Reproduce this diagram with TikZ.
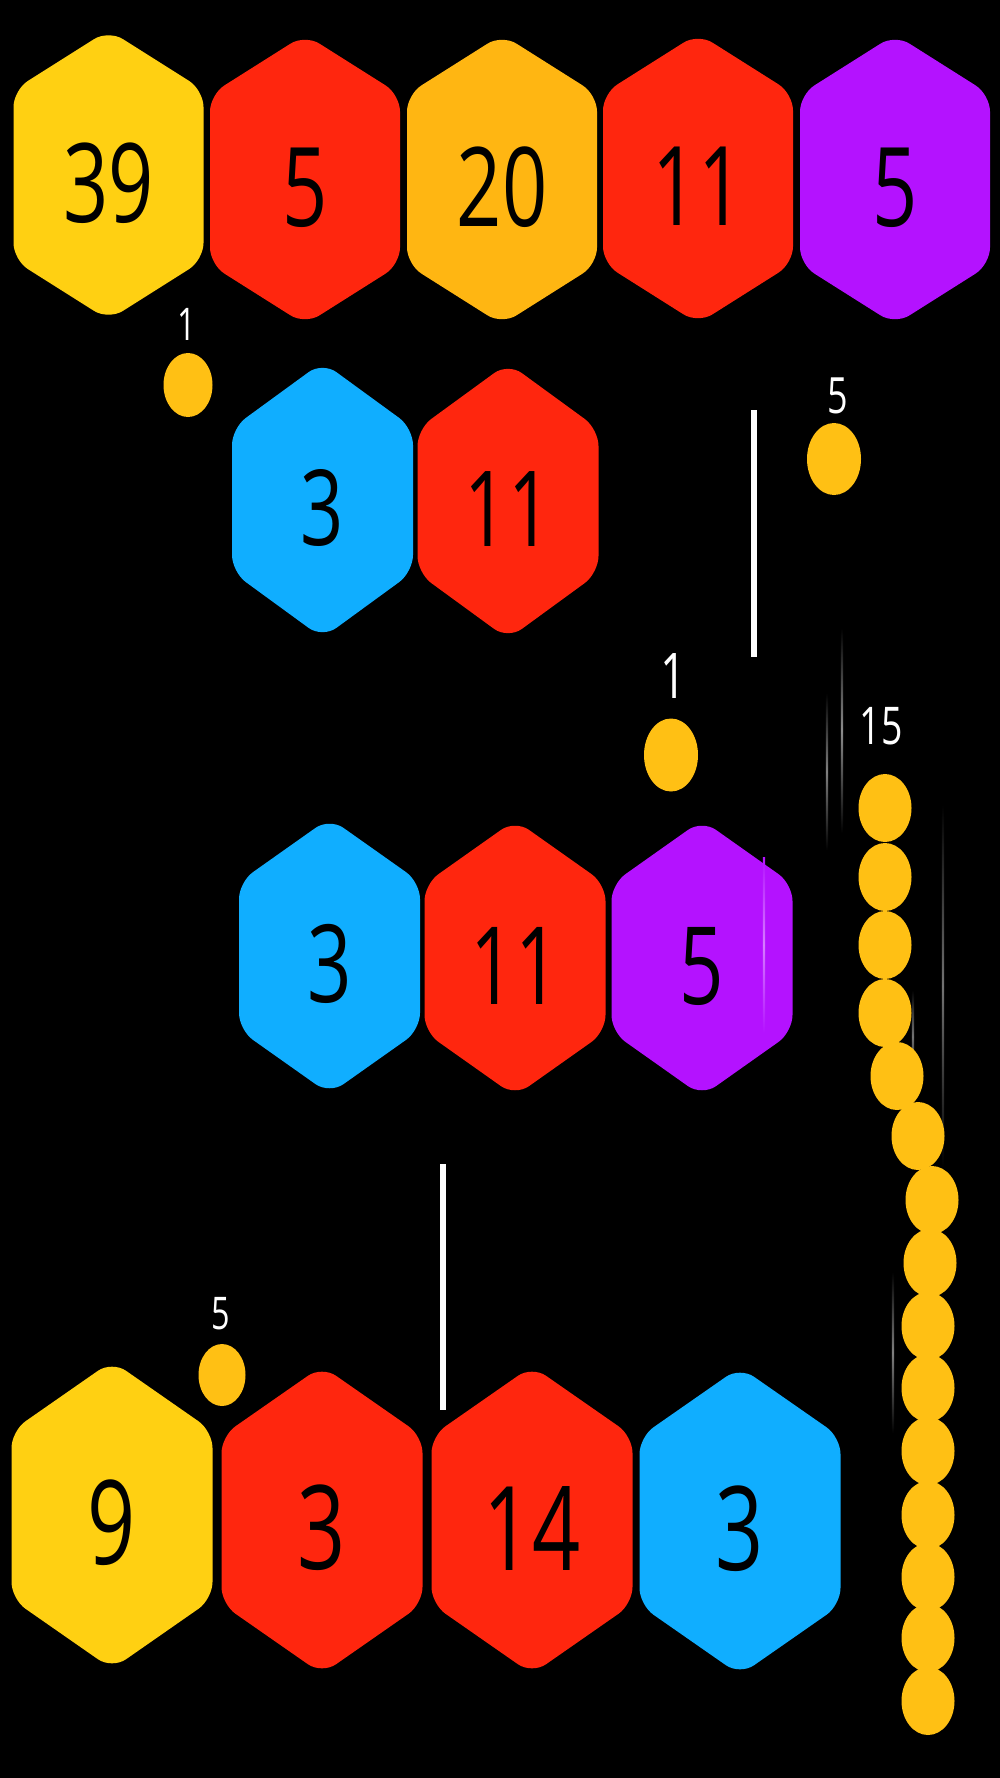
\documentclass[tikz,border=0pt]{standalone}
\usepackage{fontspec}
\usepackage{graphicx}
\usetikzlibrary{shapes.geometric}
\newfontfamily\numfont{Open Sans}
\definecolor{hyellow}{HTML}{FFD012}
\definecolor{horange}{HTML}{FFB612}
\definecolor{hred}{HTML}{FF260E}
\definecolor{hpurple}{HTML}{B412FF}
\definecolor{hblue}{HTML}{10AEFF}
\definecolor{ballc}{HTML}{FFC014}
\tikzset{
  numtext/.style={inner sep=0pt, text=black},
  labtext/.style={inner sep=0pt, text=white},
  ball/.style={ellipse, fill=ballc, inner sep=0pt, minimum width=53pt, minimum height=68pt},
  wall/.style={draw=white, line width=6pt},
  hexround/.style={rounded corners=17pt},
}
% name, cx, cy, a, b, c, colour, font size, text
\newcommand\hexcell[9]{%
  \fill[#7, hexround] (#2,#3-#5) -- (#2+#4,#3-#6) -- (#2+#4,#3+#6) -- (#2,#3+#5) -- (#2-#4,#3+#6) -- (#2-#4,#3-#6) -- cycle;
  \node[numtext] (#1) at (#2,#3+8) {\scalebox{0.72}[1]{\fontsize{#8}{#8}\numfont #9}};
}
\newcommand\streak[4]{% x, y1, y2, mid colour
  \shade[top color=#4!0!black, bottom color=#4!0!black, middle color=#4] (#1-1.2,#2) rectangle (#1+1.2,#3);
}
\begin{document}
\begin{tikzpicture}[x=1pt, y=-1pt]
\fill[black] (0,0) rectangle (1000,1778);
\useasboundingbox (0,0) rectangle (1000,1778);

% row 1
\hexcell{r1a}{108.5}{175}{95}{145}{85}{hyellow}{110}{39}
\hexcell{r1b}{305}{179.5}{95}{145}{85}{hred}{110}{5}
\hexcell{r1c}{502}{179.5}{95}{145}{85}{horange}{110}{20}
\hexcell{r1d}{698}{178.5}{95}{145}{85}{hred}{110}{11}
\hexcell{r1e}{895}{179.5}{95}{145}{85}{hpurple}{110}{5}

% row 2
\hexcell{r2a}{322.5}{500}{90.5}{138}{72}{hblue}{105}{3}
\hexcell{r2b}{508}{501}{90.5}{138}{72}{hred}{105}{11}

% row 3
\hexcell{r3a}{329.5}{956}{90.5}{138}{74}{hblue}{108}{3}
\hexcell{r3b}{515}{958}{90.5}{138}{74}{hred}{108}{11}
\hexcell{r3c}{702}{958}{90.5}{138}{74}{hpurple}{108}{5}

% row 4
\hexcell{r4a}{112}{1515}{100.5}{154}{84}{hyellow}{117}{9}
\hexcell{r4b}{322}{1520}{100.5}{154}{84}{hred}{117}{3}
\hexcell{r4c}{532}{1520}{100.5}{154}{84}{hred}{117}{14}
\hexcell{r4d}{740}{1521}{100.5}{154}{84}{hblue}{117}{3}

% faint streaks
\streak{842}{628}{833}{white!55!black}
\streak{827}{693}{850}{white!50!black}
\streak{943}{805}{1167}{white!45!black}
\streak{913}{990}{1083}{white!45!black}
\streak{893}{1272}{1433}{white!50!black}
\shade[top color=hpurple, bottom color=hpurple, middle color=hpurple!55!white] (762.8,857) rectangle (765.2,1033);

% white walls
\coordinate (w1t) at (753.5,410);
\coordinate (w1b) at (753.5,657);
\draw[wall] (w1t) -- (w1b);
\coordinate (w2t) at (443,1164);
\coordinate (w2b) at (443,1410);
\draw[wall] (w2t) -- (w2b);

% single balls with labels
\node[ball, minimum width=49pt, minimum height=64pt] (ba) at (188,385) {};
\node[labtext] (la) at (187,324) {\scalebox{0.72}[1]{\fontsize{45}{45}\numfont 1}};
\node[ball, minimum width=54pt, minimum height=72pt] (bb) at (834,459) {};
\node[labtext] (lb) at (838,396) {\scalebox{0.72}[1]{\fontsize{50}{50}\numfont 5}};
\node[ball, minimum width=54pt, minimum height=73pt] (bc) at (671,755) {};
\node[labtext] (lc) at (673,676) {\scalebox{0.72}[1]{\fontsize{63}{63}\numfont 1}};
\node[ball, minimum width=47pt, minimum height=62pt] (bd) at (222,1375) {};
\node[labtext] (ld) at (221,1314) {\scalebox{0.72}[1]{\fontsize{45}{45}\numfont 5}};

% snake
\node[labtext] (ls) at (881,726.5) {\scalebox{0.72}[1]{\fontsize{52}{52}\numfont 15}};
\foreach \i/\x/\y in {1/885/808, 2/885/877, 3/885/945, 4/885/1013, 5/897/1076,
  6/918/1136, 7/932/1200, 8/930/1263, 9/928/1326, 10/928/1388, 11/928/1451,
  12/928/1515, 13/928/1577, 14/928/1638, 15/928/1701}
  \node[ball] (s\i) at (\x,\y) {};
\end{tikzpicture}
\end{document}
